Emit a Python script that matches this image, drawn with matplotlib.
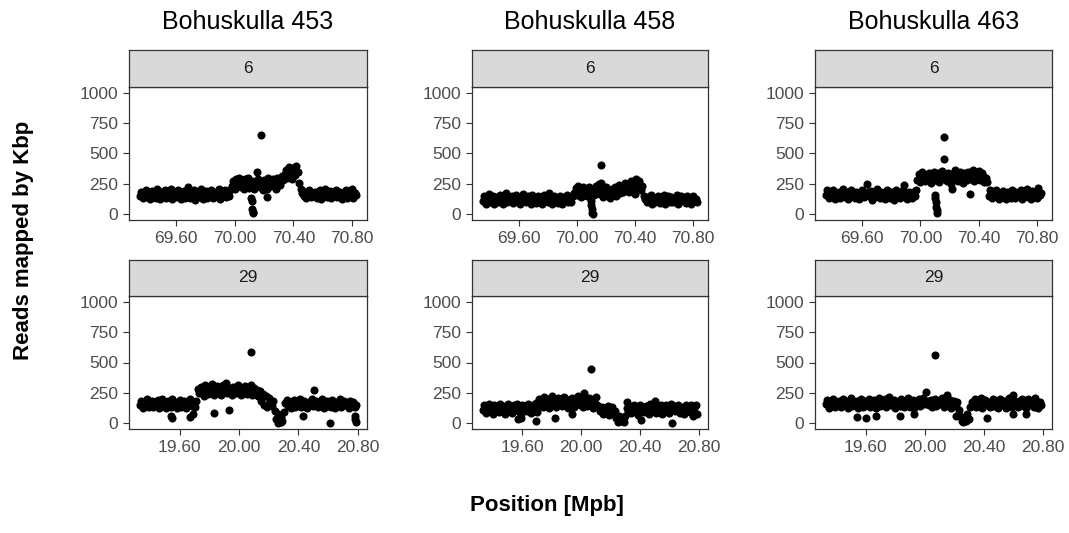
import numpy as np
from matplotlib import pyplot as plt

plt.rcParams.update({
    "font.family": "Liberation Sans",
})

samples = ["Bohuskulla 453", "Bohuskulla 458", "Bohuskulla 463"]
chromosomes = ["6", "29"]
bin_start = {"6": 69.35, "29": 19.33}
bin_size = 0.01
y_ticks = [0, 250, 500, 750, 1000]
x_ticks = {"6": [69.6, 70.0, 70.4, 70.8], "29": [19.6, 20.0, 20.4, 20.8]}

# reads mapped per kbp, one value per 10 kb window
cov_453_6 = [
    150, 185, 130, 170, 200, 140, 165, 125, 190, 155,
    175, 135, 205, 150, 120, 180, 160, 195, 130, 170,
    145, 210, 125, 165, 185, 140, 200, 155, 120, 175,
    190, 135, 160, 220, 130, 170, 150, 195, 115, 165,
    180, 140, 205, 125, 160, 190, 135, 175, 150, 200,
    130, 165, 185, 145, 210, 125, 170, 155, 195, 140,
    175, 150, 200, 235, 270, 210, 290, 245, 300, 220,
    260, 205, 285, 240, 300, 215, 230, 270, 205, 250,
    345, 290, 220, 260, 195, 280, 240, 210, 300, 255,
    230, 285, 250, 210, 300, 265, 240, 310, 280, 330,
    360, 300, 390, 340, 290, 380, 320, 400, 350, 260,
    210, 170, 150, 185, 130, 165, 200, 140, 175, 155,
    180, 135, 160, 195, 125, 170, 150, 205, 140, 165,
    190, 130, 175, 155, 200, 140, 165, 185, 125, 170,
    150, 195, 135, 180, 160, 205, 130, 170, 155,
]
cov_458_6 = [
    110, 145, 85, 130, 165, 95, 120, 150, 80, 125,
    140, 100, 155, 115, 85, 135, 170, 95, 125, 105,
    150, 90, 120, 160, 100, 140, 80, 130, 165, 110,
    95, 145, 120, 85, 155, 105, 135, 90, 150, 115,
    130, 80, 160, 110, 140, 95, 175, 120, 85, 145,
    105, 135, 90, 150, 115, 80, 140, 125, 160, 100,
    130, 95, 150, 175, 215, 160, 230, 185, 140, 220,
    170, 205, 150, 225, 180, 145, 195, 160, 230, 175,
    250, 165, 210, 140, 195, 225, 160, 185, 135, 210,
    175, 220, 150, 195, 240, 170, 215, 185, 255, 200,
    240, 180, 275, 210, 260, 165, 285, 225, 270, 200,
    230, 150, 120, 95, 140, 110, 155, 85, 130, 100,
    125, 145, 90, 135, 110, 160, 85, 120, 150, 100,
    140, 95, 130, 115, 155, 80, 125, 145, 105, 135,
    90, 150, 115, 130, 85, 145, 110, 125, 100,
]
cov_463_6 = [
    160, 195, 130, 175, 145, 200, 125, 170, 150, 185,
    135, 165, 210, 140, 180, 120, 160, 195, 145, 175,
    130, 185, 155, 120, 170, 200, 140, 165, 245, 180,
    150, 190, 115, 175, 140, 205, 160, 130, 185, 145,
    170, 125, 195, 150, 135, 180, 160, 115, 200, 140,
    175, 130, 165, 195, 240, 145, 120, 185, 155, 135,
    180, 150, 200, 280, 330, 265, 345, 300, 270, 320,
    295, 340, 260, 315, 350, 280, 310, 335, 265, 300,
    355, 290, 320, 270, 340, 300, 250, 330, 285, 360,
    310, 270, 345, 295, 260, 335, 305, 280, 350, 320,
    290, 365, 270, 325, 300, 355, 280, 340, 315, 265,
    300, 265, 150, 195, 130, 170, 145, 200, 160, 125,
    175, 140, 190, 155, 120, 180, 165, 135, 200, 150,
    130, 185, 160, 145, 195, 125, 170, 150, 205, 140,
    165, 120, 190, 145, 175, 135, 215, 155, 170,
]
cov_453_29 = [
    150, 185, 125, 170, 140, 195, 130, 165, 180, 135,
    175, 145, 190, 120, 160, 200, 140, 170, 125, 185,
    155, 130, 195, 145, 175, 120, 165, 190, 135, 160,
    180, 125, 170, 150, 195, 140, 160, 135, 185, 280,
    245, 300, 260, 225, 310, 270, 240, 295, 255, 320,
    235, 280, 305, 250, 270, 230, 315, 260, 330, 245,
    290, 255, 235, 300, 270, 245, 310, 265, 230, 285,
    255, 305, 240, 280, 260, 315, 235, 290, 250, 270,
    225, 265, 180, 240, 150, 220, 135, 205, 170, 140,
    185, 100, 30, 70, 10, 50, 20, 90, 165, 190,
    140, 175, 125, 160, 190, 135, 170, 150, 200, 130,
    165, 185, 145, 120, 175, 155, 195, 140, 165, 180,
    135, 170, 150, 195, 125, 160, 185, 140, 175, 130,
    190, 155, 120, 170, 145, 200, 135, 165, 180, 150,
    160, 125, 185, 140, 170, 130, 150,
]
cov_458_29 = [
    110, 145, 80, 125, 155, 95, 135, 70, 150, 115,
    130, 90, 160, 105, 140, 75, 120, 155, 100, 135,
    85, 145, 115, 160, 95, 130, 75, 150, 110, 140,
    100, 155, 120, 85, 145, 110, 165, 90, 200, 150,
    185, 135, 215, 160, 195, 125, 175, 220, 145, 190,
    130, 205, 165, 185, 140, 215, 155, 195, 125, 180,
    160, 210, 135, 190, 170, 225, 145, 185, 130, 200,
    175, 140, 210, 155, 195, 125, 180, 215, 150, 135,
    100, 135, 75, 120, 90, 140, 65, 110, 130, 85,
    95, 40, 10, 55, 20, 45, 5, 60, 120, 90,
    135, 80, 115, 150, 95, 130, 65, 145, 105, 125,
    90, 140, 110, 75, 155, 120, 100, 145, 85, 130,
    115, 150, 70, 135, 100, 145, 120, 80, 155, 110,
    140, 95, 125, 150, 85, 115, 135, 70, 145, 105,
    130, 90, 150, 60, 120, 145, 75,
]
cov_463_29 = [
    155, 190, 125, 170, 140, 200, 135, 175, 150, 185,
    130, 165, 195, 145, 180, 120, 160, 205, 140, 175,
    150, 185, 125, 170, 195, 135, 160, 180, 145, 200,
    130, 175, 155, 190, 120, 165, 205, 140, 180, 150,
    195, 135, 170, 215, 145, 160, 190, 125, 175, 155,
    140, 200, 165, 130, 185, 150, 210, 135, 170, 190,
    125, 175, 150, 195, 140, 165, 205, 155, 255, 180,
    145, 190, 130, 170, 200, 140, 185, 155, 165, 210,
    135, 175, 235, 150, 190, 125, 165, 180, 140, 170,
    110, 60, 20, 5, 40, 15, 70, 30, 130, 175,
    160, 195, 135, 180, 150, 205, 125, 170, 190, 145,
    175, 130, 165, 200, 140, 185, 155, 120, 195, 160,
    145, 180, 125, 170, 210, 150, 135, 190, 160, 175,
    130, 185, 155, 200, 140, 170, 120, 195, 165, 150,
    185, 135, 210, 160, 125, 175, 150,
]

# windows that drop out of the main band (deletions, spikes)
extra_453_6_x = [70.110, 70.114, 70.118, 70.121, 70.124, 70.176, 70.220]
extra_453_6_y = [130, 105, 45, 20, 5, 650, 140]
extra_458_6_x = [70.094, 70.098, 70.102, 70.106, 70.110, 70.165, 70.165]
extra_458_6_y = [110, 75, 40, 10, 0, 255, 405]
extra_463_6_x = [70.100, 70.103, 70.106, 70.109, 70.111, 70.114, 70.165, 70.165, 70.220, 70.340]
extra_463_6_y = [160, 130, 95, 60, 30, 5, 640, 455, 210, 165]
extra_453_29_x = [19.540, 19.550, 19.670, 19.690, 19.830, 19.930, 20.260, 20.280,
                  20.430, 20.505, 20.610, 20.077, 20.780, 20.785, 20.790]
extra_453_29_y = [55, 45, 50, 75, 80, 110, 0, 5, 55, 275, 0, 590, 60, 30, 10]
extra_458_29_x = [19.570, 19.590, 19.690, 19.820, 19.940, 20.017, 20.310, 20.500,
                  20.410, 20.620, 20.067]
extra_458_29_y = [35, 40, 20, 45, 75, 247, 170, 180, 25, 0, 444]
extra_463_29_x = [19.540, 19.600, 19.670, 19.830, 19.930, 20.210, 20.420, 20.600,
                  20.690, 20.600, 20.072]
extra_463_29_y = [47, 40, 55, 60, 70, 60, 42, 70, 75, 233, 561]

coverage = {
    ("Bohuskulla 453", "6"): (cov_453_6, extra_453_6_x, extra_453_6_y),
    ("Bohuskulla 458", "6"): (cov_458_6, extra_458_6_x, extra_458_6_y),
    ("Bohuskulla 463", "6"): (cov_463_6, extra_463_6_x, extra_463_6_y),
    ("Bohuskulla 453", "29"): (cov_453_29, extra_453_29_x, extra_453_29_y),
    ("Bohuskulla 458", "29"): (cov_458_29, extra_458_29_x, extra_458_29_y),
    ("Bohuskulla 463", "29"): (cov_463_29, extra_463_29_x, extra_463_29_y),
}

W, H = 1069, 533
fig = plt.figure(figsize=(W / 100, H / 100), dpi=100)


def box(x0, y0, x1, y1):
    # pixel box (top-left origin) -> figure fraction rect
    return [x0 / W, 1 - y1 / H, (x1 - x0) / W, (y1 - y0) / H]


col_px = [(129, 367), (472, 708), (815, 1052)]
row_px = [(50, 87, 220), (260, 296, 429)]
edge = "#333333"
dot = 34

for c, sample in enumerate(samples):
    x0, x1 = col_px[c]
    for r, chrom in enumerate(chromosomes):
        s0, s1, p1 = row_px[r]
        vals, ex, ey = coverage[(sample, chrom)]
        pos = np.round(bin_start[chrom] + bin_size * np.arange(len(vals)), 3)

        ax = fig.add_axes(box(x0, s1, x1, p1))
        ax.scatter(pos, vals, s=dot, c="black", linewidths=0)
        ax.scatter(ex, ey, s=dot, c="black", linewidths=0)
        lo, hi = pos[0], pos[-1]
        pad = 0.05 * (hi - lo)
        ax.set_xlim(lo - pad, hi + pad)
        ax.set_ylim(-50, 1050)
        ax.set_yticks(y_ticks)
        ax.set_xticks(x_ticks[chrom])
        ax.set_xticklabels(["%.2f" % t for t in x_ticks[chrom]])
        ax.tick_params(colors=edge, labelcolor="#4D4D4D", labelsize=12.5,
                       length=4, width=0.8, pad=4)
        for sp in ax.spines.values():
            sp.set_color(edge)
            sp.set_linewidth(0.9)

        st = fig.add_axes(box(x0, s0, x1, s1))
        st.set_facecolor("#D9D9D9")
        st.set_xticks([])
        st.set_yticks([])
        for sp in st.spines.values():
            sp.set_color(edge)
            sp.set_linewidth(0.9)
        st.text(0.5, 0.5, chrom, ha="center", va="center", fontsize=12.5,
                color="#1A1A1A", transform=st.transAxes)

    fig.text((x0 + x1) / 2 / W, 1 - 22 / H, sample, ha="center", va="center",
             fontsize=18, color="black")

fig.text(24 / W, 1 - 240 / H, "Reads mapped by Kbp", rotation=90,
         ha="center", va="center", fontsize=16, fontweight="bold")
fig.text(547 / W, 1 - 506 / H, "Position [Mpb]", ha="center", va="center",
         fontsize=16, fontweight="bold")

fig.savefig("out.png", dpi=100, facecolor="white")
